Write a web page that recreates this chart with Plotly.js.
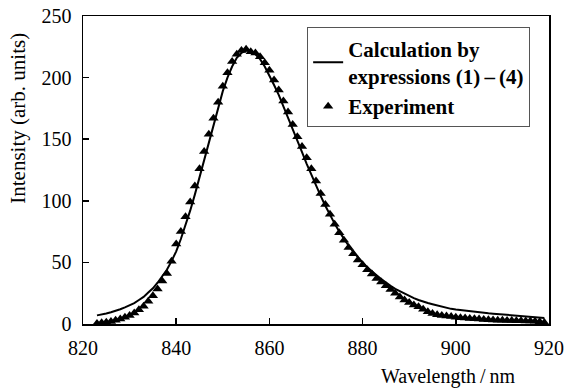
<!DOCTYPE html>
<html>
<head>
<meta charset="utf-8">
<script src="https://cdn.plot.ly/plotly-3.0.1.min.js"></script>
<style>html,body{margin:0;padding:0;background:#fff;}#chart{width:566px;height:389px;}</style>
</head>
<body>
<div id="chart"></div>
<script>
// Wavelength grid (nm)
const wavelengthExp = [823,824,825,826,827,828,829,830,831,832,833,834,835,836,837,838,839,840,841,842,843,844,845,846,847,848,849,850,851,852,853,854,855,856,857,858,859,860,861,862,863,864,865,866,867,868,869,870,871,872,873,874,875,876,877,878,879,880,881,882,883,884,885,886,887,888,889,890,891,892,893,894,895,896,897,898,899,900,901,902,903,904,905,906,907,908,909,910,911,912,913,914,915,916,917,918,919];
// Experiment intensity (arb. units)
const intensityExp = [0.5,1,1.5,2,3,4,5.5,7,9,11.5,14.5,18.5,23,28.5,35,41,51,65,75,87,99,112,126,140,154,167,180,193,204,213,219,222,223,221,220,217,212,206,198,190,181,172,162,152,144,135,126,116,106,97,89,81,74,68,62,57,52,48,44,40.5,37,34,31,28,25,22,19.5,17.5,15.5,14,12,10,8.5,7.5,7,6.5,6,5.5,5,4.8,4.5,4.2,4,3.7,3.5,3.3,3.1,3,2.9,2.8,2.7,2.6,2.5,2.4,2.2,1.8,1.2];
const wavelengthCalc = wavelengthExp;
// Calculation by expressions (1)-(4)
const intensityCalc = [7,7.5,8.5,9.5,10.5,12,13.5,15,17,19.5,22,25.5,29,33.5,38.5,44,51,59,69,80,92,105,119,133,148,162,176,189,200,209,216,220,222,221.5,219,215,209,202,194,186,177,168,158.5,149,139.5,130,121,112,104,96,88.5,81.5,75,69,63.5,58.5,54,50,46,42.5,39.5,36.5,33.5,31,28.5,26.5,24.5,22.5,21,19.5,18,17,16,15,14,13,12.3,11.7,11.2,10.7,10.2,9.8,9.4,9,8.7,8.4,8.1,7.8,7.5,7.2,6.9,6.6,6.3,6,5.6,5.2,4.8];
const xTicks = [820,840,860,880,900,920];
const yTicks = [0,50,100,150,200,250];

const serif = "'Liberation Serif', 'Times New Roman', serif";

const traces = [
  {x: wavelengthCalc, y: intensityCalc, mode: 'lines', name: 'Calculation by<br>expressions (1)\u2009\u2013\u2009(4)',
   line: {color: '#000', width: 2}},
  {x: wavelengthExp, y: intensityExp, mode: 'markers', name: 'Experiment',
   marker: {symbol: 'triangle-up', size: 9, color: '#000'}}
];

const layout = {
  width: 566, height: 389,
  margin: {l: 83, r: 17, t: 16, b: 65},
  paper_bgcolor: '#fff', plot_bgcolor: '#fff',
  font: {family: serif, size: 20, color: '#000'},
  showlegend: true,
  legend: {x: 0.481, y: 0.963, xanchor: 'left', yanchor: 'top',
    bordercolor: '#555', borderwidth: 1, bgcolor: '#fff',
    font: {family: serif, size: 21, color: '#000', weight: 'bold'},
    itemwidth: 30, tracegroupgap: 0},
  xaxis: {range: [820, 920], tickvals: xTicks, ticktext: xTicks.map(String),
    showline: true, linecolor: '#000', linewidth: 1.5, mirror: true,
    ticks: 'inside', ticklen: 6, tickwidth: 1.5, tickcolor: '#000', ticklabelstandoff: 5,
    showgrid: false, zeroline: false, tickfont: {family: serif, size: 20}},
  yaxis: {range: [0, 250], tickvals: yTicks, ticktext: yTicks.map(String),
    showline: true, linecolor: '#000', linewidth: 1.5, mirror: true,
    ticks: 'inside', ticklen: 6, tickwidth: 1.5, tickcolor: '#000', ticklabelstandoff: 6,
    showgrid: false, zeroline: false, tickfont: {family: serif, size: 20}},
  annotations: [
    {text: 'Wavelength\u2009/\u2009nm', xref: 'paper', yref: 'paper', x: 0.934, y: -0.172,
     xanchor: 'right', yanchor: 'middle', showarrow: false, font: {family: serif, size: 20}},
    {text: 'Intensity (arb. units)', xref: 'paper', yref: 'paper', x: -0.14, y: 0.669,
     xanchor: 'center', yanchor: 'middle', textangle: -90, showarrow: false, font: {family: serif, size: 21}}
  ]
};

Plotly.newPlot('chart', traces, layout, {staticPlot: true, displayModeBar: false});
</script>
</body>
</html>
